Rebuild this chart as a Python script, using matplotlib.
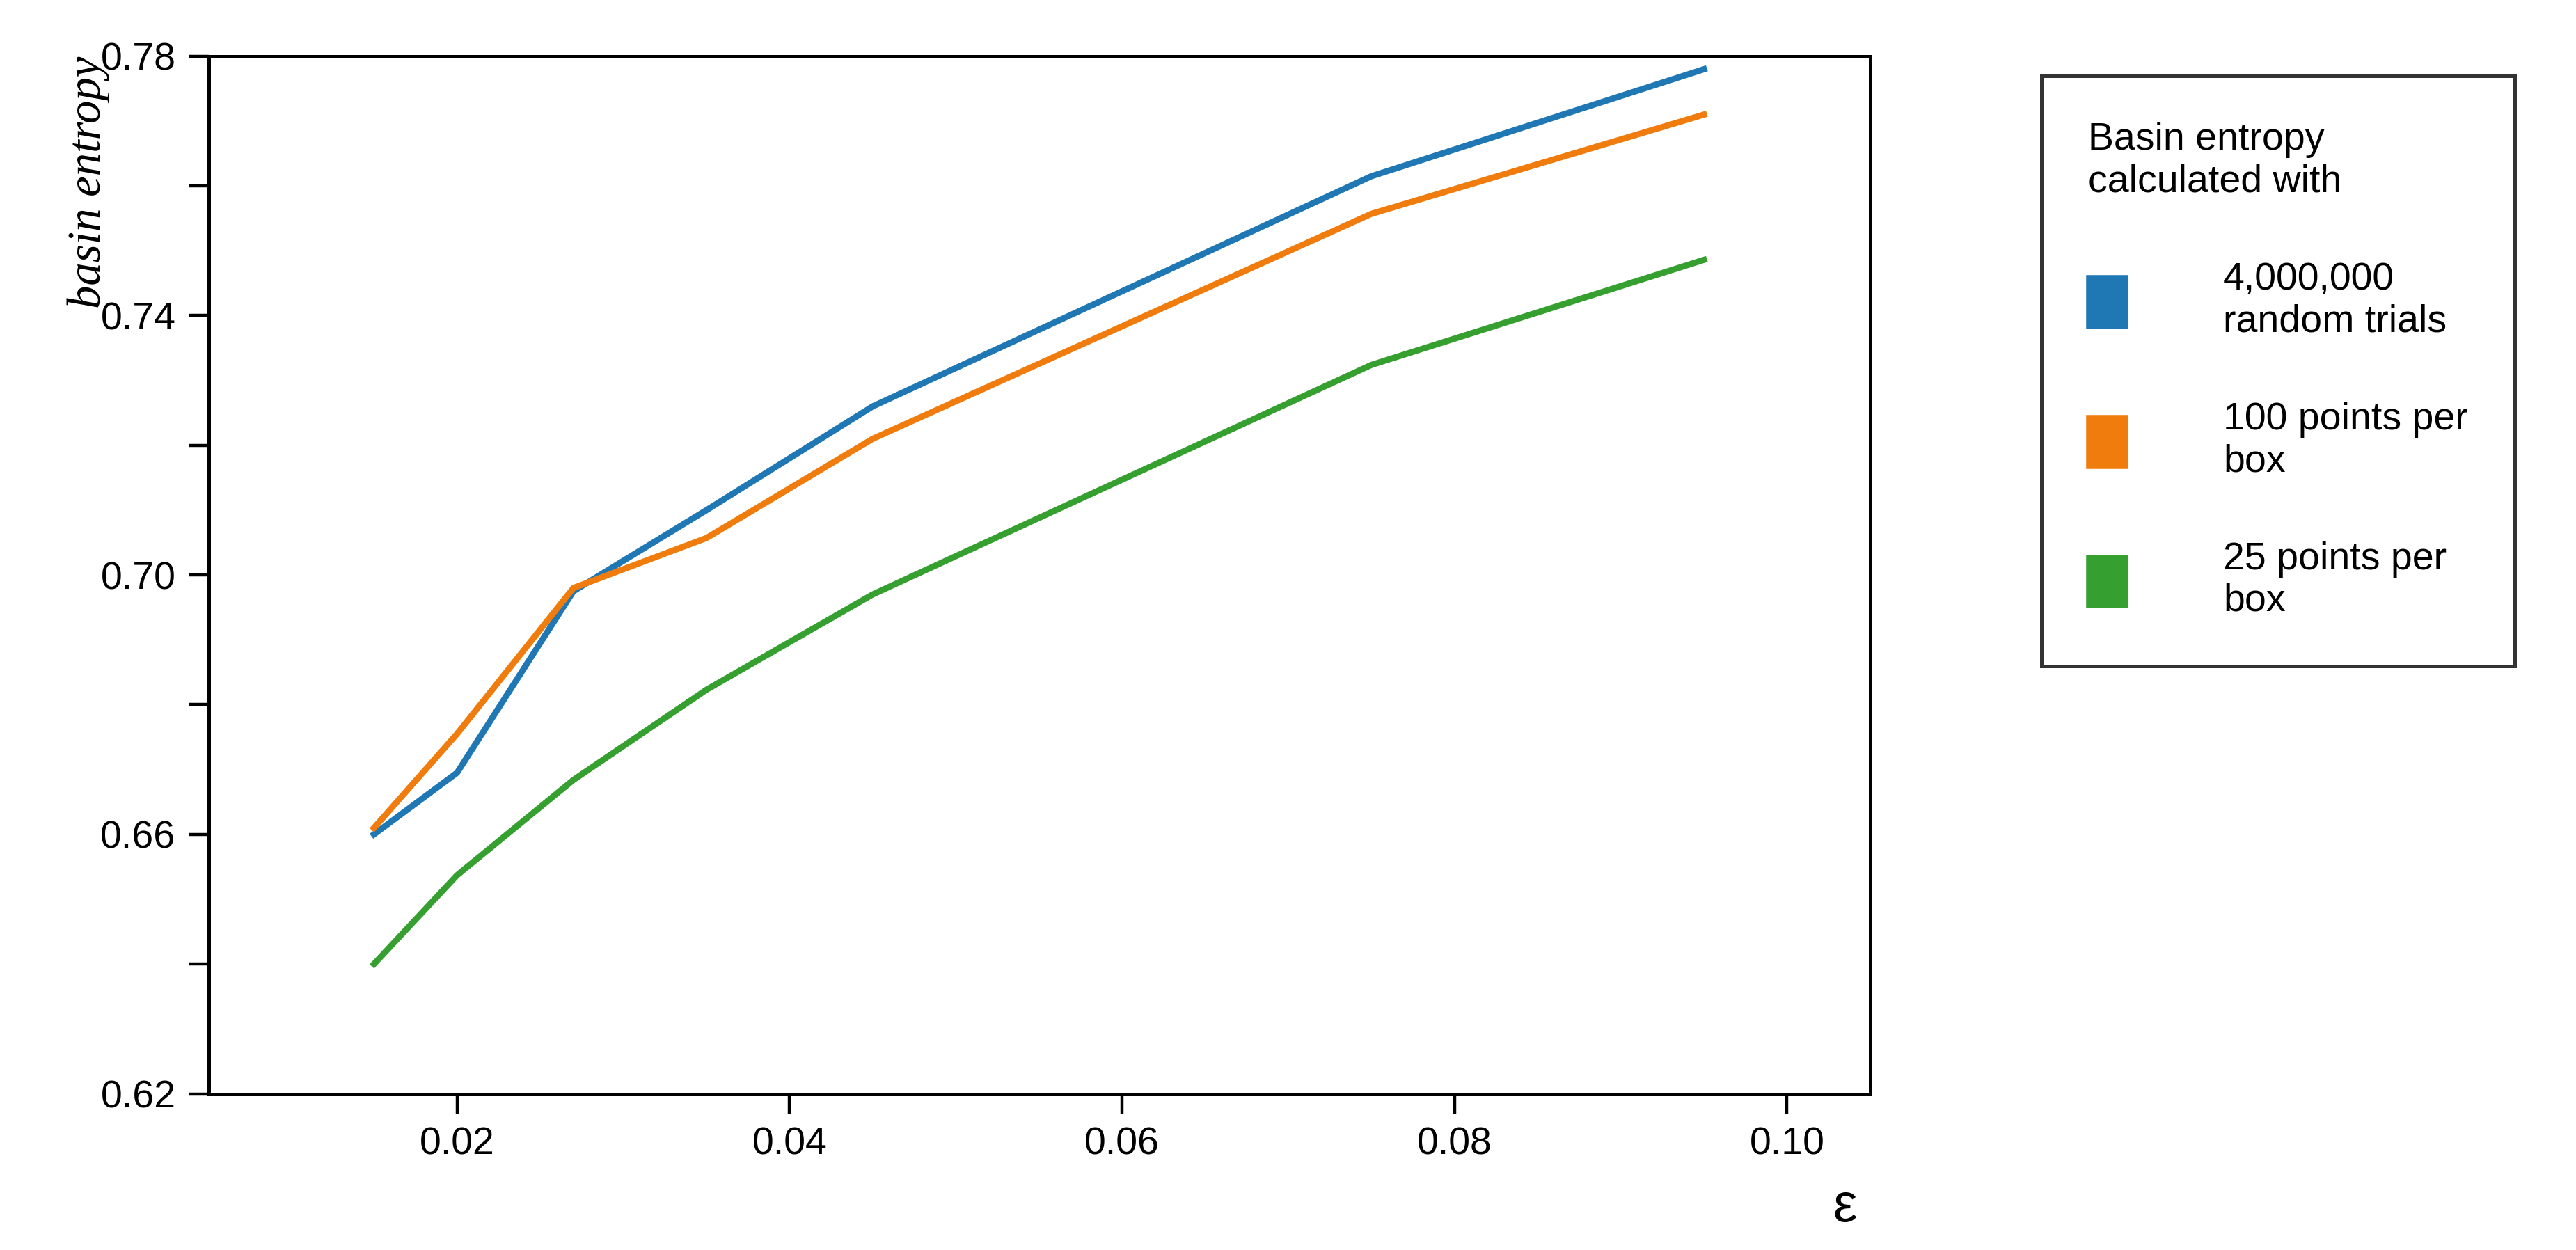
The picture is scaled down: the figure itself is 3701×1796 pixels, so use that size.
import matplotlib
matplotlib.use("Agg")
import matplotlib.pyplot as plt
from matplotlib.patches import Patch
from matplotlib.ticker import MultipleLocator

eps = [0.015, 0.02, 0.027, 0.035, 0.045, 0.075, 0.095]
blue = [0.660, 0.6695, 0.6975, 0.710, 0.726, 0.7615, 0.778]
orange = [0.661, 0.6755, 0.698, 0.7057, 0.721, 0.7557, 0.771]
green = [0.640, 0.6537, 0.6684, 0.6823, 0.697, 0.7324, 0.7486]
labels = ["4,000,000\nrandom trials", "100 points per\nbox", "25 points per\nbox"]
colors = ["#1f77b4", "#f07c0e", "#35a02f"]

plt.rcParams['font.family'] = ['Arial', 'Liberation Sans', 'DejaVu Sans']
fig = plt.figure(figsize=(3701/400, 1796/400), dpi=400)
ax = fig.add_axes([0.081, 0.125, 0.645, 0.830])
for y, c in zip([blue, orange, green], colors):
    ax.plot(eps, y, color=c, lw=1.6)
ax.set_xlim(0.00506, 0.105)
ax.set_ylim(0.62, 0.78)
ax.set_xticks([0.02, 0.04, 0.06, 0.08, 0.10])
ax.set_xticklabels(["0.02", "0.04", "0.06", "0.08", "0.10"])
ax.set_yticks([0.62, 0.66, 0.70, 0.74, 0.78])
ax.set_yticklabels(["0.62", "0.66", "0.70", "0.74", "0.78"])
ax.yaxis.set_minor_locator(MultipleLocator(0.02))
ax.tick_params(which='both', direction='out', labelsize=10, length=5, width=0.8)
for s in ax.spines.values():
    s.set_linewidth(0.9)
ax.text(-0.085, 1.0, "basin entropy", transform=ax.transAxes, rotation=90,
        ha='left', va='top', fontsize=12, style='italic',
        family=['Liberation Serif', 'DejaVu Serif'])
ax.text(0.985, -0.085, "ε", transform=ax.transAxes, ha='center', va='top', fontsize=14)

handles = [Patch(color=c) for c in colors]
leg = fig.legend(handles, labels, title="Basin entropy\ncalculated with",
                 loc='upper left', bbox_to_anchor=(0.785, 0.955),
                 fontsize=10, title_fontsize=10, frameon=True, fancybox=False,
                 edgecolor='black', handlelength=1.0, handleheight=1.6,
                 handletextpad=2.5, labelspacing=1.6, borderpad=1.2)
leg.get_frame().set_linewidth(0.9)
leg._legend_box.align = "left"
fig.savefig("out.png", dpi=400, facecolor='white')
